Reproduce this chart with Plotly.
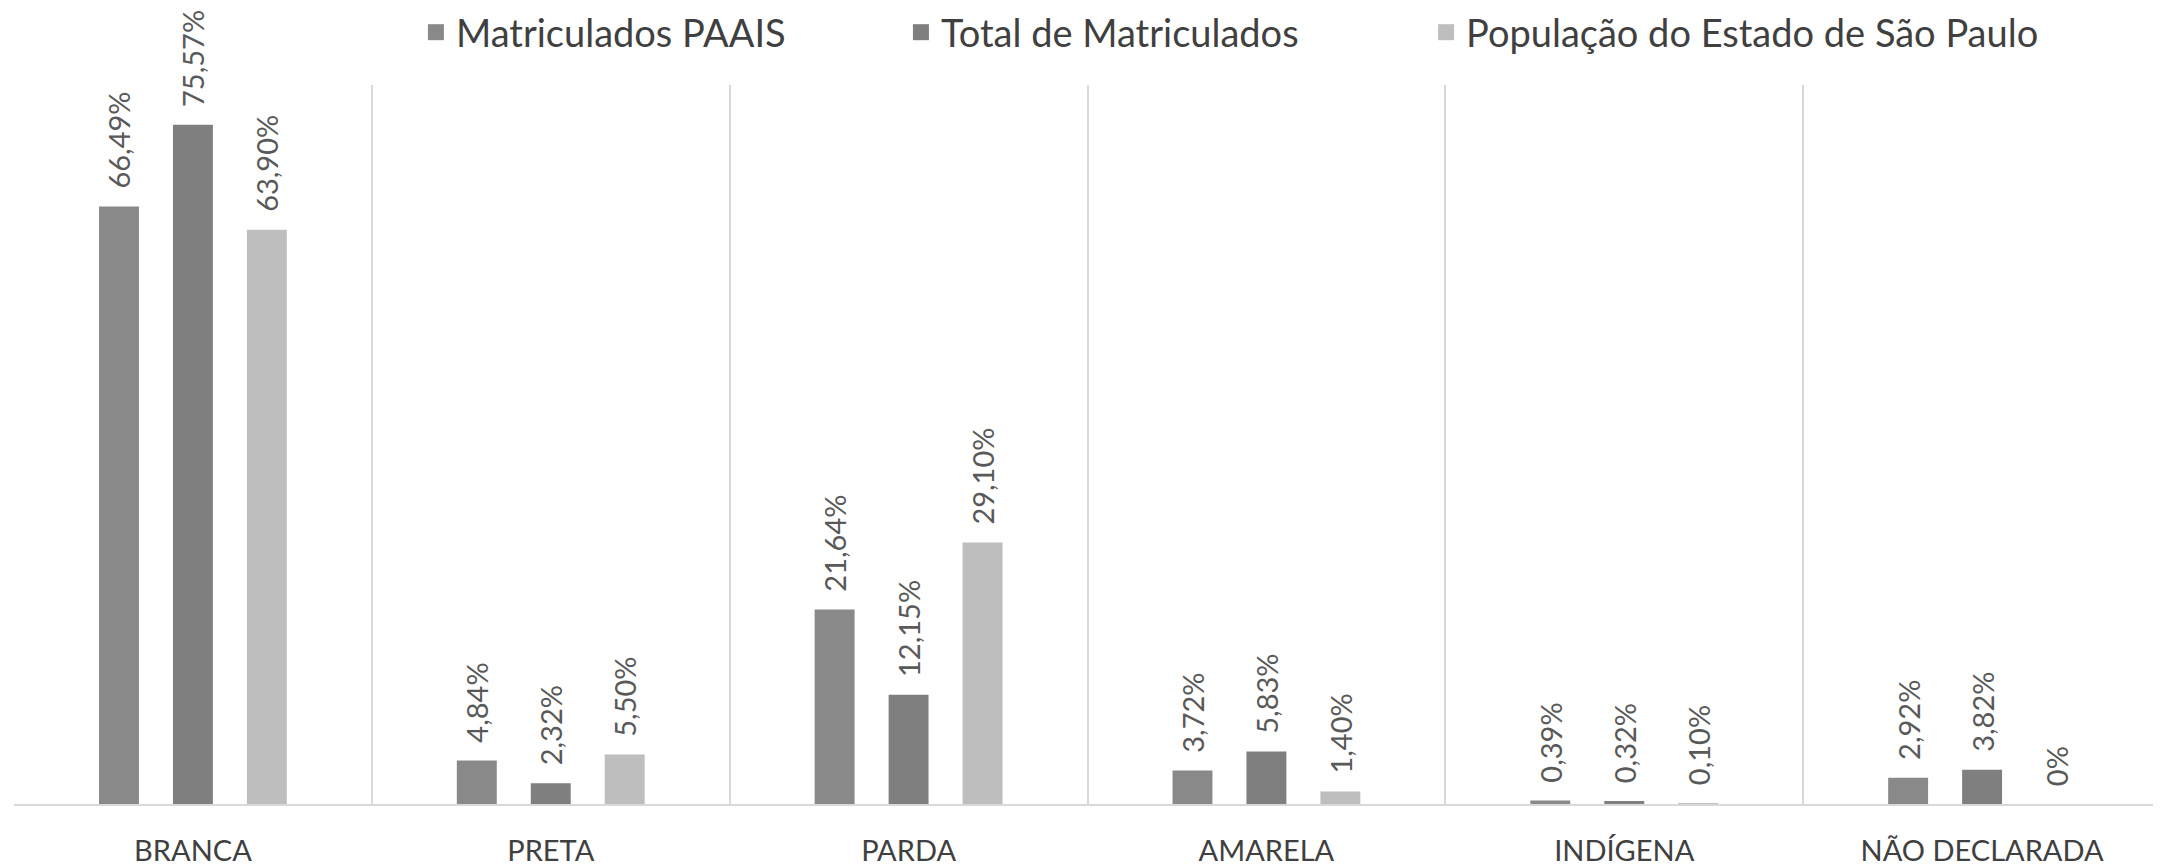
import plotly.graph_objects as go

categories = ["BRANCA", "PRETA", "PARDA", "AMARELA", "INDÍGENA", "NÃO DECLARADA"]
series_names = ["Matriculados PAAIS", "Total de Matriculados", "População do Estado de São Paulo"]
paais = [66.49, 4.84, 21.64, 3.72, 0.39, 2.92]
total = [75.57, 2.32, 12.15, 5.83, 0.32, 3.82]
populacao = [63.90, 5.50, 29.10, 1.40, 0.10, 0.0]
colors = ["#898989", "#7f7f7f", "#bebebe"]
legend_x = [0.1872, 0.4131, 0.6577]

FONT = "Lato"
PAD = "\u00a0\u00a0"  # small visual gap between bar top and its label


def fmt(v):
    if v == 0:
        return "0%"
    return f"{v:.2f}".replace(".", ",") + "%"


fig = go.Figure()
legend_ids = ["legend", "legend2", "legend3"]
for name, vals, col, lid in zip(series_names, [paais, total, populacao], colors, legend_ids):
    fig.add_trace(go.Bar(
        x=categories, y=vals, name=name, marker_color=col,
        marker_line_width=0,
        text=[PAD + fmt(v) for v in vals], textposition="outside", textangle=-90,
        textfont=dict(family=FONT, size=29, color="#595959"),
        constraintext="none", cliponaxis=False, showlegend=False,
        hoverinfo="skip",
    ))
    # legend proxy with larger square symbol
    fig.add_trace(go.Scatter(
        x=[None], y=[None], mode="markers", name=name,
        marker=dict(symbol="square", size=24, color=col),
        showlegend=True, legend=lid,
    ))

leg_common = dict(
    orientation="h", xanchor="left", yref="container", y=0.9715, yanchor="middle",
    font=dict(family=FONT, size=38, color="#404040"),
    bgcolor="rgba(0,0,0,0)", itemclick=False,
)

# the page body adds an 8px margin; size the figure to fit the window
fig.update_layout(
    width=2153, height=859,
    paper_bgcolor="white", plot_bgcolor="white",
    margin=dict(l=6, r=0, t=77, b=58),
    barmode="group", bargap=0.38, bargroupgap=0.46,
    font=dict(family=FONT, color="#404040"),
    legend=dict(x=legend_x[0], **leg_common),
    legend2=dict(x=legend_x[1], **leg_common),
    legend3=dict(x=legend_x[2], **leg_common),
    xaxis=dict(
        type="category", range=[-0.5, 5.5],
        showgrid=True, gridcolor="#d9d9d9", gridwidth=2, tickson="boundaries",
        showline=True, linecolor="#d9d9d9", linewidth=2,
        ticks="", ticklabelstandoff=20,
        tickfont=dict(family=FONT, size=29, color="#404040"),
        fixedrange=True,
    ),
    yaxis=dict(
        range=[0, 80], visible=False, showgrid=False, zeroline=False,
        fixedrange=True,
    ),
)

fig.write_html("out.html")
